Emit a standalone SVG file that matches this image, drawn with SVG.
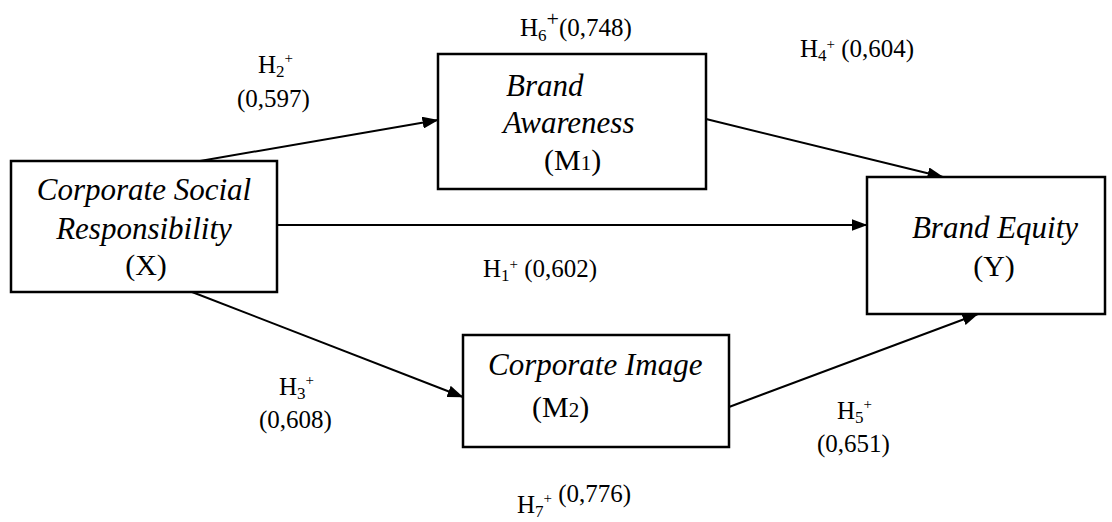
<svg xmlns="http://www.w3.org/2000/svg" width="1112" height="522" viewBox="0 0 1112 522">
<defs>
<marker id="ah" markerWidth="16" markerHeight="12" refX="15.5" refY="6" orient="auto" markerUnits="userSpaceOnUse" viewBox="0 0 16 12">
<path d="M0,0 L16,6 L0,12 Z" fill="#000"/>
</marker>
<style>
.box{fill:#fff;stroke:#000;stroke-width:2.5}
.t{font-family:"Liberation Serif","Times New Roman",serif;font-size:31px;font-style:italic;fill:#000}
.p{font-family:"Liberation Serif","Times New Roman",serif;font-size:30px;fill:#000}
.l{font-family:"Liberation Serif","Times New Roman",serif;font-size:25px;fill:#000}
.sub{font-size:17px}
.sup{font-size:15px}
.e{stroke:#000;stroke-width:2;fill:none;marker-end:url(#ah)}
</style>
</defs>
<rect width="1112" height="522" fill="#fff"/>
<g id="connectors">
<line class="e" x1="200" y1="161" x2="438" y2="120"/>
<line class="e" x1="277" y1="225" x2="867" y2="225"/>
<line class="e" x1="706" y1="119" x2="943" y2="177"/>
<line class="e" x1="192" y1="292" x2="463" y2="397"/>
<line class="e" x1="729" y1="407" x2="978" y2="314"/>
</g>
<g id="node-x">
<rect class="box" x="11" y="161" width="266" height="131"/>
<text class="t" x="144" y="200" text-anchor="middle">Corporate Social</text>
<text class="t" x="144" y="239" text-anchor="middle">Responsibility</text>
<text class="p" x="146" y="275" text-anchor="middle">(X)</text>
</g>
<g id="node-m1">
<rect class="box" x="438" y="54" width="268" height="135"/>
<text class="t" x="506" y="96">Brand</text>
<text class="t" x="503" y="133">Awareness</text>
<text class="p" x="544" y="170">(M<tspan font-size="21">1</tspan>)</text>
</g>
<g id="node-m2">
<rect class="box" x="463" y="335" width="266" height="112"/>
<text class="t" x="488" y="375">Corporate Image</text>
<text class="p" x="532" y="417">(M<tspan font-size="21">2</tspan>)</text>
</g>
<g id="node-y">
<rect class="box" x="867" y="177" width="238" height="137"/>
<text class="t" x="995" y="238" text-anchor="middle">Brand Equity</text>
<text class="p" x="994" y="276" text-anchor="middle">(Y)</text>
</g>
<g id="labels">
<text class="l" x="258" y="73">H<tspan class="sub" dy="4">2</tspan><tspan class="sup" dy="-14">+</tspan></text>
<text class="l" x="237" y="107">(0,597)</text>
<text class="l" x="520" y="36">H<tspan class="sub" dy="5">6</tspan><tspan font-size="22" dy="-15">+</tspan><tspan dy="10">(0,748)</tspan></text>
<text class="l" x="800" y="57">H<tspan class="sub" dy="4">4</tspan><tspan class="sup" dy="-12">+</tspan><tspan dy="8"> (0,604)</tspan></text>
<text class="l" x="483" y="277">H<tspan class="sub" dy="4">1</tspan><tspan class="sup" dy="-12">+</tspan><tspan dy="8"> (0,602)</tspan></text>
<text class="l" x="279" y="395">H<tspan class="sub" dy="4">3</tspan><tspan class="sup" dy="-14">+</tspan></text>
<text class="l" x="259" y="428">(0,608)</text>
<text class="l" x="837" y="419">H<tspan class="sub" dy="4">5</tspan><tspan class="sup" dy="-14">+</tspan></text>
<text class="l" x="817" y="452">(0,651)</text>
<text class="l" x="517" y="513">H<tspan class="sub" dy="4">7</tspan><tspan class="sup" dy="-14">+</tspan><tspan dy="-1"> (0,776)</tspan></text>
</g>
</svg>
